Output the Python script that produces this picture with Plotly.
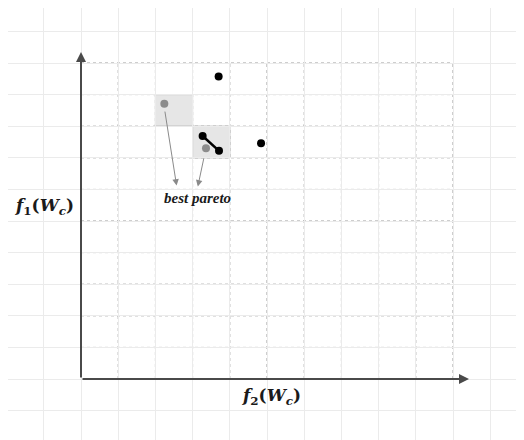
import plotly.graph_objects as go

# grid units: inner grid is 10 x 10 cells
n_cells = 10

# non-dominated / dominated points (black) and the best pareto (grey)
black_x = [3.70, 3.27, 3.71, 4.84]
black_y = [9.57, 7.69, 7.22, 7.46]
front_x = [3.27, 3.71]
front_y = [7.69, 7.22]
grey_x = [2.24, 3.36]
grey_y = [8.71, 7.30]

# highlighted cells (lower-left corner)
cell_x = [2, 3]
cell_y = [8, 7]

# arrows from grey points down to the label
arrow_tail_x = [2.25, 3.31]
arrow_tail_y = [8.51, 7.03]
arrow_tip_x = [2.57, 3.14]
arrow_tip_y = [6.12, 6.09]

label_text = "best pareto"
label_x, label_y = 3.13, 5.74
y_title = "<b><i>f</i><sub>1</sub>(<i>W</i><sub><i>c</i></sub>)</b>"
x_title = "<b><i>f</i><sub>2</sub>(<i>W</i><sub><i>c</i></sub>)</b>"

fig = go.Figure()

shapes = []
# inner dotted grid
for i in range(1, n_cells + 1):
    shapes.append(dict(type="line", x0=i, x1=i, y0=0, y1=n_cells,
                       line=dict(color="#9c9c9c", width=1, dash="dot"), layer="below"))
    shapes.append(dict(type="line", x0=0, x1=n_cells, y0=i, y1=i,
                       line=dict(color="#9c9c9c", width=1, dash="dot"), layer="below"))
# shaded cells
for cx, cy in zip(cell_x, cell_y):
    shapes.append(dict(type="rect", x0=cx, x1=cx + 1, y0=cy, y1=cy + 1,
                       fillcolor="#e6e6e6", line=dict(color="#a8a8a8", width=1), layer="below"))
fig.update_layout(shapes=shapes)

fig.add_trace(go.Scatter(x=front_x, y=front_y, mode="lines",
                         line=dict(color="black", width=2.5), hoverinfo="skip"))
fig.add_trace(go.Scatter(x=black_x, y=black_y, mode="markers",
                         marker=dict(color="black", size=8), hoverinfo="skip"))
fig.add_trace(go.Scatter(x=grey_x, y=grey_y, mode="markers",
                         marker=dict(color="#8c8c8c", size=8), hoverinfo="skip"))

annotations = []
# axes with arrow heads
annotations.append(dict(x=0, y=10.35, ax=0, ay=0, xref="x", yref="y", axref="x", ayref="y",
                        showarrow=True, arrowhead=2, arrowsize=1, arrowwidth=2,
                        arrowcolor="#4a4a4a", text=""))
annotations.append(dict(x=10.43, y=0, ax=0, ay=0, xref="x", yref="y", axref="x", ayref="y",
                        showarrow=True, arrowhead=2, arrowsize=1, arrowwidth=2,
                        arrowcolor="#4a4a4a", text=""))
for tx, ty, hx, hy in zip(arrow_tail_x, arrow_tail_y, arrow_tip_x, arrow_tip_y):
    annotations.append(dict(x=hx, y=hy, ax=tx, ay=ty, xref="x", yref="y", axref="x", ayref="y",
                            showarrow=True, arrowhead=2, arrowsize=1.3, arrowwidth=1,
                            arrowcolor="#8a8a8a", standoff=0, text=""))
annotations.append(dict(x=label_x, y=label_y, text="<b><i>" + label_text + "</i></b>",
                        showarrow=False, font=dict(family="Liberation Serif", size=15, color="#1a1a1a")))
annotations.append(dict(x=-0.97, y=5.47, text=y_title, showarrow=False,
                        font=dict(family="DejaVu Serif", size=17, color="#1a1a1a")))
annotations.append(dict(x=5.13, y=-0.54, text=x_title, showarrow=False,
                        font=dict(family="DejaVu Serif", size=17, color="#1a1a1a")))

# the page has an 8px body margin, so the figure is 8px smaller and the ranges start at px 8
fig.update_layout(
    annotations=annotations,
    width=516,
    height=432,
    margin=dict(t=0, b=0, l=0, r=0),
    paper_bgcolor="white",
    plot_bgcolor="white",
    showlegend=False,
)
fig.update_xaxes(range=[(8 - 81) / 37.2, (524 - 81) / 37.2], dtick=1, tick0=0, showgrid=True,
                 gridcolor="#ebebeb", gridwidth=1, zeroline=False, showticklabels=False,
                 ticks="", fixedrange=True)
fig.update_yaxes(range=[(379 - 440) / 31.6, (379 - 8) / 31.6], dtick=1, tick0=0, showgrid=True,
                 gridcolor="#ebebeb", gridwidth=1, zeroline=False, showticklabels=False,
                 ticks="", fixedrange=True)

fig.write_html("out.html")
